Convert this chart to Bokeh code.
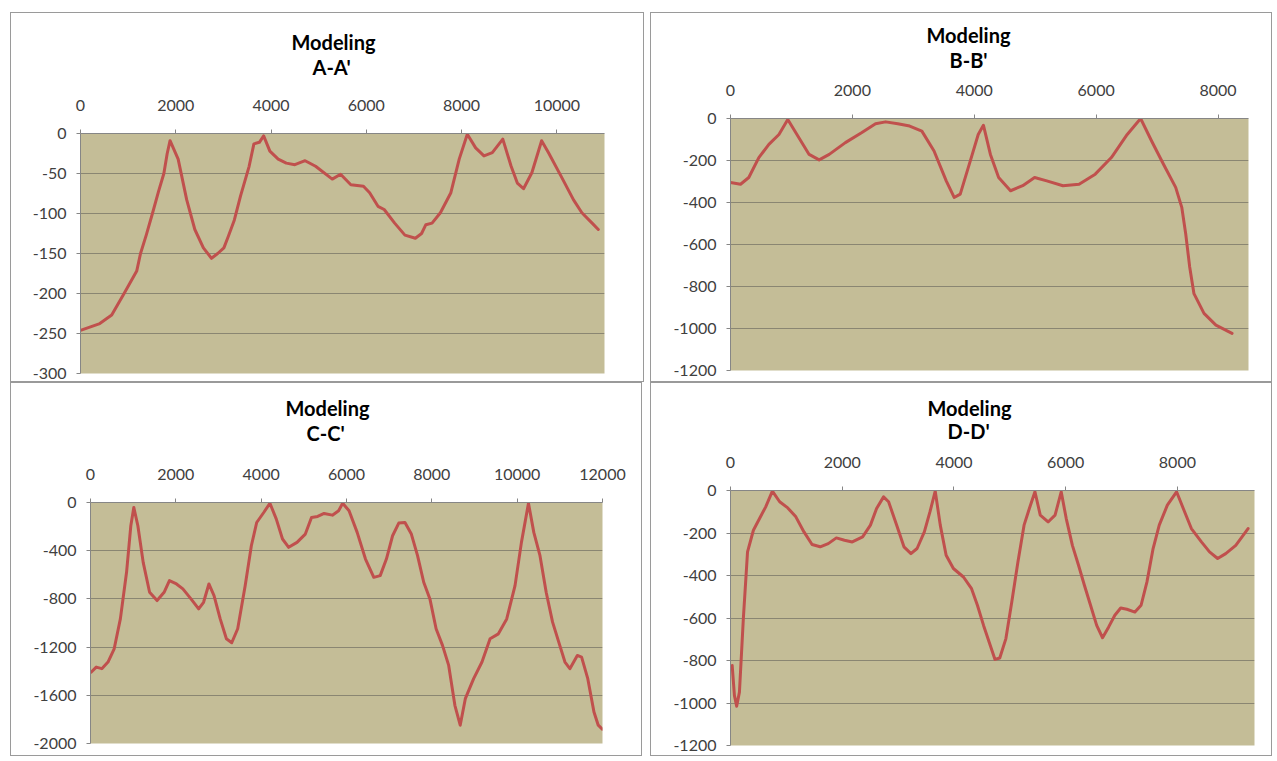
from bokeh.plotting import figure
from bokeh.layouts import column, row
from bokeh.models import Range1d, FixedTicker, Title, PrintfTickFormatter
from bokeh.embed import file_html
from bokeh.resources import INLINE

# ---------------- data ----------------
title_main = "Modeling"

# Panel A-A'
a_name = "A-A'"
a_dist = [0, 390, 655, 915, 1180, 1260, 1380, 1510, 1640, 1750, 1820, 1880, 2050, 2230, 2400,
          2580, 2750, 2880, 3010, 3100, 3230, 3360, 3540, 3640, 3755, 3845, 3975, 4150, 4320,
          4500, 4715, 4935, 5285, 5460, 5675, 5940, 6070, 6245, 6375, 6595, 6810, 7030, 7160,
          7250, 7380, 7555, 7775, 7950, 8120, 8295, 8470, 8645, 8865, 9040, 9170, 9300, 9475,
          9680, 9825, 10085, 10350, 10525, 10740, 10870]
a_val = [-246, -238, -227, -200, -172, -150, -127, -100, -72, -50, -25, -9, -32, -83, -120,
         -143, -156, -150, -143, -129, -108, -78, -41, -13, -11, -3, -22, -32, -37,
         -39, -34, -41, -57, -51, -64, -66, -74, -91, -95, -112, -127, -131, -125,
         -114, -112, -99, -74, -32, -1, -18, -28, -24, -7, -41, -62, -69, -49,
         -9, -24, -53, -83, -99, -112, -120]
a_xticks = [0, 2000, 4000, 6000, 8000, 10000]
a_yticks = [0, -50, -100, -150, -200, -250, -300]

# Panel B-B'
b_name = "B-B'"
b_dist = [0, 165, 300, 465, 630, 795, 940, 1090, 1290, 1455, 1620, 1885, 2150, 2380, 2545,
          2745, 2940, 3140, 3340, 3540, 3670, 3770, 3935, 4065, 4150, 4265, 4400, 4595, 4795,
          4990, 5190, 5455, 5720, 5985, 6250, 6510, 6730, 6910, 7105, 7305, 7405, 7470, 7535,
          7605, 7770, 7965, 8230]
b_val = [-305, -313, -281, -186, -123, -76, -5, -76, -171, -197, -171, -115, -68, -25, -16,
         -25, -36, -60, -155, -297, -376, -360, -202, -76, -32, -171, -281, -344, -320,
         -281, -297, -320, -313, -265, -186, -76, 0, -107, -218, -328, -423, -550, -707,
         -834, -928, -984, -1023]
b_xticks = [0, 2000, 4000, 6000, 8000]
b_yticks = [0, -200, -400, -600, -800, -1000, -1200]

# Panel C-C'
c_name = "C-C'"
c_dist = [20, 135, 265, 410, 555, 700, 845, 945, 1015, 1110, 1235, 1385, 1560, 1725, 1850,
          2015, 2165, 2355, 2535, 2650, 2775, 2895, 3040, 3185, 3310, 3450, 3625, 3770, 3895,
          4060, 4205, 4355, 4500, 4645, 4840, 5035, 5180, 5325, 5475, 5670, 5815, 5910, 6060,
          6250, 6445, 6640, 6790, 6935, 7080, 7225, 7370, 7520, 7665, 7810, 7955, 8100, 8250,
          8395, 8540, 8665, 8785, 8980, 9175, 9365, 9560, 9755, 9950, 10100, 10265, 10390,
          10535, 10680, 10830, 10975, 11120, 11235, 11410, 11510, 11655, 11800, 11900, 11995]
c_val = [-1407, -1366, -1379, -1324, -1214, -966, -579, -193, -41, -193, -497, -745, -814, -745,
         -648, -676, -717, -800, -883, -828, -676, -772, -966, -1131, -1164, -1048, -690, -359,
         -166, -83, -6, -138, -303, -372, -331, -262, -124, -116, -91, -105, -69, -6, -69,
         -248, -469, -621, -607, -469, -276, -171, -166, -262, -441, -662, -800, -1048, -1186,
         -1352, -1683, -1848, -1628, -1462, -1324, -1131, -1090, -966, -690, -331, -6, -248,
         -441, -745, -993, -1159, -1324, -1379, -1269, -1283, -1462, -1738, -1848, -1881]
c_xticks = [0, 2000, 4000, 6000, 8000, 10000, 12000]
c_yticks = [0, -400, -800, -1200, -1600, -2000]

# Panel D-D'
d_name = "D-D'"
d_dist = [30, 70, 110, 160, 230, 305, 410, 520, 630, 750, 880, 1025, 1170, 1315, 1460, 1605,
          1750, 1895, 2040, 2180, 2365, 2505, 2615, 2740, 2830, 2975, 3105, 3230, 3340, 3470,
          3570, 3665, 3755, 3860, 3990, 4170, 4315, 4420, 4530, 4640, 4735, 4820, 4930, 5035,
          5145, 5255, 5350, 5450, 5545, 5685, 5810, 5920, 6010, 6120, 6230, 6335, 6445, 6555,
          6660, 6770, 6880, 6985, 7095, 7240, 7350, 7455, 7565, 7675, 7820, 7985, 8105, 8250,
          8430, 8575, 8720, 8865, 9045, 9265]
d_val = [-823, -964, -1015, -949, -603, -289, -187, -132, -77, -3, -53, -82, -124, -195, -254,
         -265, -250, -223, -234, -242, -218, -163, -85, -30, -53, -163, -265, -297, -273, -195,
         -101, -3, -163, -305, -367, -407, -462, -540, -635, -721, -795, -788, -697, -525,
         -336, -163, -85, -6, -116, -148, -116, -6, -132, -258, -352, -446, -540, -635,
         -693, -642, -587, -553, -559, -572, -540, -430, -273, -163, -69, -6, -85, -179,
         -242, -289, -320, -297, -258, -179]
d_xticks = [0, 2000, 4000, 6000, 8000]
d_yticks = [0, -200, -400, -600, -800, -1000, -1200]

# ---------------- style ----------------
FONT = "Lato"
PLOT_BG = "#C4BD97"
GRID = "#8a8672"
LINE = "#C0504D"
AXIS = "#868686"
TICK_TXT = "#404040"
BORDER = "1px solid #9a9a9a"


def panel(xs, ys, name, xmax, ymin, xticks, yticks, w, h, borders, margin, titles):
    left, right, top, bottom = borders
    p = figure(width=w, height=h, x_range=Range1d(0, xmax), y_range=Range1d(ymin, 0),
               x_axis_location="above", toolbar_location=None, output_backend="svg",
               min_border_left=left, min_border_right=right,
               min_border_top=top, min_border_bottom=bottom,
               background_fill_color=PLOT_BG, border_fill_color="white",
               margin=margin, styles={"border": BORDER})
    p.outline_line_color = None
    p.xgrid.visible = False
    p.ygrid.grid_line_color = GRID
    p.ygrid.grid_line_width = 1
    p.xaxis.ticker = FixedTicker(ticks=xticks)
    p.yaxis.ticker = FixedTicker(ticks=yticks)
    p.yaxis.formatter = PrintfTickFormatter(format="%d")
    for ax in (p.xaxis[0], p.yaxis[0]):
        ax.axis_line_color = AXIS
        ax.major_tick_line_color = AXIS
        ax.major_tick_out = 4
        ax.major_tick_in = 0
        ax.minor_tick_line_color = None
        ax.major_label_text_font = FONT
        ax.major_label_text_font_size = "16px"
        ax.major_label_text_color = TICK_TXT
    p.xaxis.major_label_standoff = 19
    p.yaxis.major_label_standoff = 10
    p.line(xs, ys, line_color=LINE, line_width=3, line_join="round", line_cap="round")
    gap, (off1, st1), (off2, st2) = titles
    # empty spacer between the axis labels and the two title lines
    p.add_layout(Title(text=" ", align="left", standoff=gap, text_font=FONT,
                       text_font_size="10px"), "above")
    p.add_layout(Title(text=name, align="left", offset=off1, standoff=st1,
                       text_font=FONT, text_font_style="bold", text_font_size="20px",
                       text_color="#000000"), "above")
    p.add_layout(Title(text=title_main, align="left", offset=off2, standoff=st2,
                       text_font=FONT, text_font_style="bold", text_font_size="20px",
                       text_color="#000000"), "above")
    return p


pa = panel(a_dist, a_val, a_name, 11000, -300, a_xticks, a_yticks,
           634, 370, (69, 41, 120, 10), (12, 0, 0, 10), (3.8, (232, 0), (211, -2)))
pb = panel(b_dist, b_val, b_name, 8500, -1200, b_xticks, b_yticks,
           622, 370, (79, 25, 105, 13), (12, 0, 0, 6), (-3.7, (219, 0), (196, -3.4)))
pc = panel(c_dist, c_val, c_name, 12000, -2000, c_xticks, c_yticks,
           632, 374, (79, 41, 119, 14), (0, 0, 0, 10), (7, (216, 0), (195, -2)))
pd_ = panel(d_dist, d_val, d_name, 9380, -1200, d_xticks, d_yticks,
            622, 374, (79, 19, 107, 12), (0, 0, 0, 8), (-3.3, (217, 0), (197, -6)))

layout = column(row(column(pa), column(pb)), row(column(pc), column(pd_)))

open("out.html", "w").write(file_html(layout, INLINE))
